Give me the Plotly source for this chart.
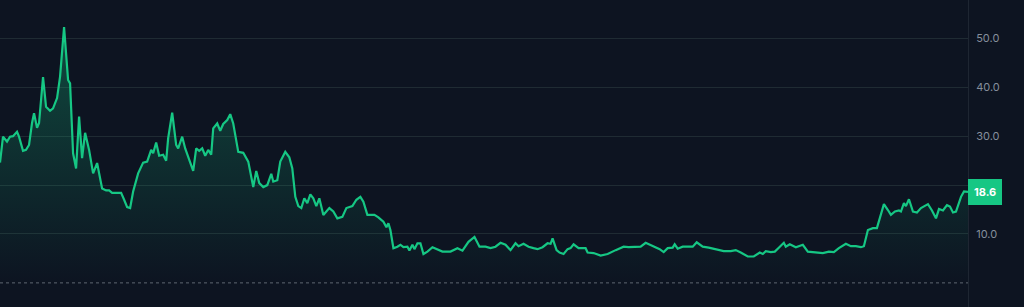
import plotly.graph_objects as go

# time index (days) and series values
t = [0, 3, 7, 10, 13, 17, 19, 23, 26, 29, 32, 34, 37, 39, 43, 46, 50, 53, 57, 60,
     64, 68, 70, 73, 76, 79, 82, 85, 89, 93, 97, 102, 106, 109, 112, 115, 121, 124, 127, 130,
     133, 138, 143, 147, 151, 153, 156, 159, 163, 166, 168, 172, 176, 178, 182, 185, 189, 193, 196, 199,
     202, 205, 208, 211, 213, 217, 220, 223, 227, 230, 233, 238, 243, 248, 253, 256, 259, 263, 267, 271,
     273, 277, 280, 285, 289, 292, 295, 298, 301, 304, 307, 310, 313, 316, 319, 323, 329, 333, 337, 342,
     346, 352, 356, 360, 363, 367, 374, 378, 383, 386, 388, 390, 393, 397, 400, 403, 407, 409, 412, 414,
     417, 420, 423, 427, 432, 437, 442, 450, 457, 462, 468, 474, 479, 485, 490, 495, 500, 505, 510, 515,
     518, 523, 528, 533, 537, 542, 547, 550, 552, 556, 559, 563, 567, 570, 573, 578, 585, 587, 593, 600,
     607, 615, 623, 628, 637, 640, 645, 653, 659, 663, 667, 672, 674, 677, 682, 687, 692, 696, 702, 708,
     717, 723, 730, 735, 740, 747, 753, 759, 762, 765, 770, 774, 778, 783, 785, 789, 795, 802, 807, 815,
     822, 828, 833, 838, 845, 850, 855, 860, 863, 867, 872, 876, 879, 883, 887, 890, 894, 898, 900, 903,
     905, 908, 912, 916, 920, 927, 931, 935, 938, 942, 946, 949, 952, 955, 960, 963, 967]

values = [24.6, 29.9, 28.9, 29.9, 30.0, 30.9, 29.9, 27.0, 27.2, 28.2, 32.7, 34.7, 31.7, 32.7, 42.1, 36.0, 35.2, 35.7, 37.8, 42.2,
          52.3, 41.5, 40.8, 26.5, 23.4, 34.0, 25.5, 30.7, 27.2, 22.4, 24.5, 19.3, 18.9, 18.9, 18.4, 18.4, 18.4, 17.0, 15.5, 15.3,
          18.7, 22.4, 24.6, 24.8, 27.2, 26.5, 28.7, 26.0, 26.2, 25.0, 29.6, 34.8, 28.2, 27.5, 29.9, 27.5, 25.3, 22.9, 27.5, 27.0,
          27.5, 26.0, 27.2, 26.2, 31.6, 32.6, 31.1, 32.5, 33.3, 34.5, 32.6, 26.8, 26.6, 24.8, 19.6, 22.9, 20.4, 19.6, 20.0, 22.3,
          20.7, 21.0, 24.8, 26.8, 25.7, 23.4, 17.6, 15.7, 15.3, 17.3, 16.3, 18.1, 17.3, 15.7, 17.3, 13.9, 15.3, 14.6, 13.2, 13.5,
          15.3, 15.7, 17.0, 17.6, 16.6, 13.9, 13.9, 13.4, 12.5, 11.4, 12.2, 10.8, 7.1, 7.4, 7.8, 7.3, 7.4, 6.6, 7.8, 6.9,
          8.1, 8.1, 5.9, 6.4, 7.3, 6.9, 6.4, 6.4, 7.1, 6.6, 8.4, 9.4, 7.4, 7.4, 7.1, 7.4, 8.2, 7.8, 6.7, 8.1,
          7.5, 8.0, 7.4, 7.1, 6.9, 7.3, 8.1, 8.0, 9.1, 6.7, 6.2, 5.9, 6.9, 7.1, 7.9, 7.1, 7.1, 6.2, 6.1, 5.6,
          5.9, 6.7, 7.4, 7.3, 7.3, 7.4, 8.2, 7.4, 6.9, 6.3, 7.1, 7.2, 7.9, 7.0, 7.4, 7.4, 7.4, 8.3, 7.4, 7.2,
          6.7, 6.5, 6.5, 6.7, 6.2, 5.4, 5.4, 6.2, 5.9, 6.5, 6.3, 6.4, 7.2, 8.2, 7.4, 7.9, 7.3, 7.8, 6.4, 6.3,
          6.1, 6.4, 6.3, 7.1, 8.0, 7.5, 7.5, 7.3, 7.5, 10.8, 11.2, 11.2, 13.5, 16.1, 14.9, 13.9, 14.6, 14.8, 14.6, 16.3,
          15.7, 17.1, 14.6, 14.4, 15.3, 16.1, 14.8, 13.2, 15.1, 14.8, 15.9, 15.6, 14.4, 14.6, 17.6, 18.7, 18.6]

tick_vals = [10, 20, 30, 40, 50]
# the 20.0 label sits under the last-value badge in the reference
tick_text = ["10.0", "", "30.0", "40.0", "50.0"]
last_label = "18.6"

GREEN = "#16c784"
BG = "#0d1421"

fig = go.Figure()
fig.add_trace(go.Scatter(
    x=t, y=values, mode="lines",
    line=dict(color=GREEN, width=2.2),
    fill="tozeroy",
    fillgradient=dict(type="vertical",
                      colorscale=[[0, "rgba(22,199,132,0.0)"], [1, "rgba(22,199,132,0.30)"]],
                      start=0, stop=52),
    hoverinfo="skip",
))

# dotted baseline
fig.add_shape(type="line", xref="paper", x0=0, x1=1, yref="y", y0=0, y1=0,
              line=dict(color="rgba(160,170,180,0.55)", width=1, dash="dot"))

fig.add_annotation(xref="paper", x=1.0, yref="y", y=values[-1], text="<b>" + last_label + "</b>",
                   showarrow=False, xanchor="left", yanchor="middle",
                   bgcolor=GREEN, bordercolor=GREEN, borderwidth=0, borderpad=6,
                   font=dict(color="white", size=11, family="Inter"))

fig.update_layout(
    width=1024, height=307,
    margin=dict(l=0, r=56, t=0, b=0),
    paper_bgcolor=BG, plot_bgcolor=BG,
    showlegend=False,
    xaxis=dict(range=[0, 967], showgrid=False, zeroline=False, showticklabels=False,
               showline=False, fixedrange=True),
    yaxis=dict(range=[-4.93, 57.85], side="right", tickvals=tick_vals, ticktext=tick_text,
               showgrid=True, gridcolor="#1f2b33", gridwidth=1, zeroline=False,
               showline=True, linecolor="#1e2632", linewidth=1, mirror=False,
               ticks="", ticklabelstandoff=5,
               tickfont=dict(color="#858f9c", size=11, family="Inter")),
)

fig.write_html("out.html")
